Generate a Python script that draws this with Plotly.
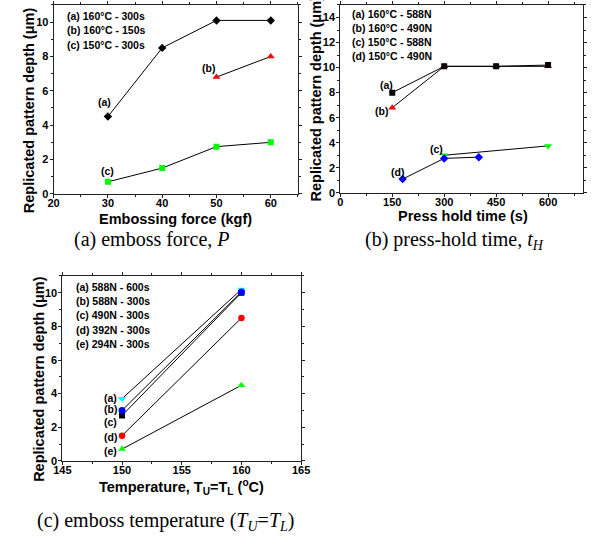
import plotly.graph_objects as go

W, H = 592, 547

# ---------------- data ----------------
# panel (a): embossing force
force_a = [30, 40, 50, 60]
depth_fa = [4.5, 8.5, 10.1, 10.1]
force_b = [50, 60]
depth_fb = [6.8, 8.0]
force_c = [30, 40, 50, 60]
depth_fc = [0.7, 1.5, 2.75, 3.0]
legend_a = ["(a) 160°C - 300s", "(b) 160°C - 150s", "(c) 150°C - 300s"]

# panel (b): press hold time
time_a = [150, 300, 450, 600]
depth_ta = [8.0, 10.1, 10.1, 10.2]
time_b = [150, 300, 450, 600]
depth_tb = [6.8, 10.1, 10.1, 10.1]
time_c = [300, 600]
depth_tc = [3.0, 3.75]
time_d = [180, 300, 400]
depth_td = [1.1, 2.75, 2.85]
legend_b = ["(a) 160°C - 588N", "(b) 160°C - 490N", "(c) 150°C - 588N", "(d) 150°C - 490N"]

# panel (c): temperature
temp = [150, 160]
depth_ka = [3.7, 10.2]
depth_kb = [3.0, 10.05]
depth_kc = [2.7, 10.0]
depth_kd = [1.5, 8.5]
depth_ke = [0.7, 4.5]
legend_c = ["(a) 588N - 600s", "(b) 588N - 300s", "(c) 490N - 300s",
            "(d) 392N - 300s", "(e) 294N - 300s"]

# --------------- helpers ---------------
def px(x):
    return x / W

def py(y):
    return 1 - y / H

SANS = "Liberation Sans"
SERIF = "Liberation Serif"
AX = "#222222"

fig = go.Figure()

def series(x, y, sym, color, size, xa, ya):
    fig.add_trace(go.Scatter(
        x=x, y=y, mode="lines+markers", xaxis=xa, yaxis=ya,
        line=dict(color="black", width=1),
        marker=dict(symbol=sym, color=color, size=size, line=dict(width=0)),
        showlegend=False, hoverinfo="skip"))

# panel a
series(force_a, depth_fa, "diamond", "black", 6.5, "x", "y")
series(force_b, depth_fb, "triangle-up", "#ff0000", 7, "x", "y")
series(force_c, depth_fc, "square", "#00ff00", 6, "x", "y")
# panel b
series(time_b, depth_tb, "triangle-up", "#ff0000", 7, "x2", "y2")
series(time_a, depth_ta, "square", "black", 6, "x2", "y2")
series(time_c, depth_tc, "triangle-down", "#00ff00", 7, "x2", "y2")
series(time_d, depth_td, "diamond", "#0000ff", 6.5, "x2", "y2")
# panel c
series(temp, depth_kc, "square", "black", 6, "x3", "y3")
series(temp, depth_ka, "triangle-down", "#00ffff", 7, "x3", "y3")
series(temp, depth_kb, "circle", "#0000ff", 7, "x3", "y3")
series(temp, depth_kd, "circle", "#ff0000", 6.5, "x3", "y3")
series(temp, depth_ke, "triangle-up", "#00ff00", 7, "x3", "y3")

tickfont = dict(family=SANS, size=11, color="black", weight="bold")

def xax(rng, dtick, minor, dom, anchor):
    return dict(range=rng, dtick=dtick, tick0=rng[0], domain=dom, anchor=anchor,
                showline=True, linecolor=AX, linewidth=1, mirror="ticks",
                ticks="outside", ticklen=3, tickcolor=AX, showgrid=False, zeroline=False,
                tickfont=tickfont, ticklabelstandoff=-4,
                minor=dict(dtick=minor, ticks="outside", ticklen=2, tickcolor=AX, showgrid=False))

def yax(rng, dtick, minor, dom, anchor):
    return dict(range=rng, dtick=dtick, tick0=0, domain=dom, anchor=anchor,
                showline=True, linecolor=AX, linewidth=1, mirror="ticks",
                ticks="outside", ticklen=3, tickcolor=AX, showgrid=False, zeroline=False,
                tickfont=tickfont, ticklabelstandoff=-1,
                minor=dict(dtick=minor, ticks="outside", ticklen=2, tickcolor=AX, showgrid=False))

fig.update_layout(
    width=W, height=H, margin=dict(l=0, r=0, t=0, b=0),
    paper_bgcolor="white", plot_bgcolor="white",
    xaxis=xax([20, 65], 10, 5, [px(46), px(298)], "y"),
    yaxis=yax([0, 11], 2, 1, [py(196), py(5)], "x"),
    xaxis2=xax([0, 700], 150, 75, [px(341.7), px(591.7)], "y2"),
    yaxis2=yax([0, 15], 2, 1, [py(195), py(5)], "x2"),
    xaxis3=xax([145, 165], 5, 2.5, [px(55), px(301.3)], "y3"),
    yaxis3=yax([0, 11], 2, 1, [py(466), py(279)], "x3"),
)

ann = []
lab = dict(family=SANS, size=10.5, color="black", weight="bold")
ttl = dict(family=SANS, size=14.5, color="black", weight="bold")
cap = dict(family=SERIF, size=20, color="black")

def paper_text(text, x, y, font, xanchor="center", yanchor="middle", angle=0):
    ann.append(dict(text=text, x=px(x), y=py(y), xref="paper", yref="paper",
                    xanchor=xanchor, yanchor=yanchor, showarrow=False,
                    font=font, textangle=angle))

def data_text(text, x, y, xr, yr, xanchor="center"):
    ann.append(dict(text=text, x=x, y=y, xref=xr, yref=yr, xanchor=xanchor,
                    yanchor="middle", showarrow=False, font=lab))

# legends (text blocks)
for i, t in enumerate(legend_a):
    paper_text(t, 58, 15.7 + 15 * i, lab, xanchor="left")
for i, t in enumerate(legend_b):
    paper_text(t, 352, 14.3 + 14.25 * i, lab, xanchor="left")
for i, t in enumerate(legend_c):
    paper_text(t, 67.3, 290 + 14.4 * i, lab, xanchor="left")

# point labels
data_text("(a)", 29.3, 5.37, "x", "y")
data_text("(b)", 48.6, 7.33, "x", "y")
data_text("(c)", 30, 1.33, "x", "y")
data_text("(a)", 132, 8.64, "x2", "y2")
data_text("(b)", 118, 6.54, "x2", "y2")
data_text("(c)", 279, 3.48, "x2", "y2")
data_text("(d)", 166, 1.65, "x2", "y2")
for t, yv in zip(["(a)", "(b)", "(c)", "(d)", "(e)"], [3.75, 3.1, 2.3, 1.43, 0.6]):
    data_text(t, 149.74, yv, "x3", "y3", xanchor="right")

# axis titles
ytitle = "Replicated pattern depth (μm)"
paper_text(ytitle, 20, 111, ttl, angle=-90)
paper_text(ytitle, 316.5, 99.7, ttl, angle=-90)
paper_text(ytitle, 31, 383, ttl, angle=-90)
paper_text("Embossing force (kgf)", 172, 221, ttl)
paper_text("Press hold time (s)", 468, 218, ttl)
paper_text("Temperature, T<sub>U</sub>=T<sub>L</sub> (<sup>o</sup>C)", 178, 492, ttl)

# captions
paper_text("(a) emboss force, <i>P</i>", 147, 242, cap)
paper_text("(b) press-hold time, <i>t<sub>H</sub></i>", 459, 243, cap)
paper_text("(c) emboss temperature (<i>T<sub>U</sub></i>=<i>T<sub>L</sub></i>)", 161, 527, cap)

fig.update_layout(annotations=ann)
fig.write_html("out.html")
